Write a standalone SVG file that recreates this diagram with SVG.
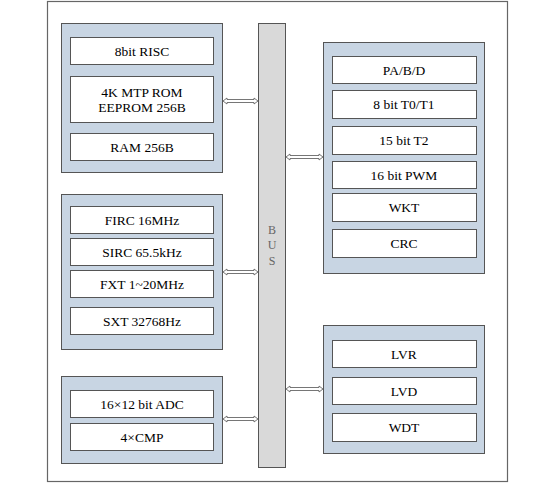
<svg xmlns="http://www.w3.org/2000/svg" width="541" height="493" viewBox="0 0 541 493" font-family="'Liberation Serif', 'DejaVu Serif', serif">
<style>
.frame{fill:#fff;stroke:#666;stroke-width:1.2}
.grp{fill:#c8d5e3;stroke:#555;stroke-width:1}
.box{fill:#fff;stroke:#555;stroke-width:1}
.bus{fill:#d9d9d9;stroke:#555;stroke-width:1}
.arr{fill:#fff;stroke:#666;stroke-width:0.9}
text{font-family:'Liberation Serif','DejaVu Serif',serif;font-size:13.5px;fill:#000;text-anchor:middle;dominant-baseline:central}
.bl{fill:#666;font-size:12px}
</style>
<rect class="frame" x="47.5" y="1.5" width="460" height="480"/>
<g id="bus">
<rect class="bus" x="258.5" y="23.5" width="27" height="444"/>
<text class="bl" x="272" y="230">B</text>
<text class="bl" x="272" y="245">U</text>
<text class="bl" x="272" y="261">S</text>
</g>
<g id="core">
<rect class="grp" x="61.5" y="23.5" width="161" height="149"/>
<rect class="box" x="70.5" y="37.5" width="143" height="27"/>
<text x="142" y="51">8bit RISC</text>
<rect class="box" x="70.5" y="76.5" width="143" height="46"/>
<text x="142" y="92">4K MTP ROM</text>
<text x="142" y="107">EEPROM 256B</text>
<rect class="box" x="70.5" y="133.5" width="143" height="27"/>
<text x="142" y="147">RAM 256B</text>
</g>
<g id="clock">
<rect class="grp" x="61.5" y="194.5" width="161" height="155"/>
<rect class="box" x="70.5" y="206.5" width="143" height="27"/>
<text x="142" y="220">FIRC 16MHz</text>
<rect class="box" x="70.5" y="238.5" width="143" height="27"/>
<text x="142" y="252">SIRC 65.5kHz</text>
<rect class="box" x="70.5" y="270.5" width="143" height="27"/>
<text x="142" y="284">FXT 1~20MHz</text>
<rect class="box" x="70.5" y="307.5" width="143" height="27"/>
<text x="142" y="321">SXT 32768Hz</text>
</g>
<g id="analog">
<rect class="grp" x="61.5" y="376.5" width="161" height="87"/>
<rect class="box" x="70.5" y="390.5" width="143" height="27"/>
<text x="142" y="404">16×12 bit ADC</text>
<rect class="box" x="70.5" y="423.5" width="143" height="27"/>
<text x="142" y="437">4×CMP</text>
</g>
<g id="periph">
<rect class="grp" x="323.5" y="42.5" width="161" height="231"/>
<rect class="box" x="332.5" y="56.5" width="144" height="27"/>
<text x="404" y="70">PA/B/D</text>
<rect class="box" x="332.5" y="90.5" width="144" height="28"/>
<text x="404" y="104">8 bit T0/T1</text>
<rect class="box" x="332.5" y="126.5" width="144" height="28"/>
<text x="404" y="140">15 bit T2</text>
<rect class="box" x="332.5" y="161.5" width="144" height="27"/>
<text x="404" y="175">16 bit PWM</text>
<rect class="box" x="332.5" y="193.5" width="144" height="28"/>
<text x="404" y="207">WKT</text>
<rect class="box" x="332.5" y="229.5" width="144" height="28"/>
<text x="404" y="243">CRC</text>
</g>
<g id="safety">
<rect class="grp" x="323.5" y="325.5" width="161" height="128"/>
<rect class="box" x="332.5" y="340.5" width="144" height="27"/>
<text x="404" y="354">LVR</text>
<rect class="box" x="332.5" y="377.5" width="144" height="27"/>
<text x="404" y="391">LVD</text>
<rect class="box" x="332.5" y="413.5" width="144" height="28"/>
<text x="404" y="427">WDT</text>
</g>
<g id="connectors">
<polygon class="arr" points="223,101 227,98 227,99.5 254,99.5 254,98 258,101 254,104 254,102.5 227,102.5 227,104"/>
<polygon class="arr" points="223,272 227,269 227,270.5 254,270.5 254,269 258,272 254,275 254,273.5 227,273.5 227,275"/>
<polygon class="arr" points="223,419 227,416 227,417.5 254,417.5 254,416 258,419 254,422 254,420.5 227,420.5 227,422"/>
<polygon class="arr" points="286,157 290,154 290,155.5 319,155.5 319,154 323,157 319,160 319,158.5 290,158.5 290,160"/>
<polygon class="arr" points="286,389 290,386 290,387.5 319,387.5 319,386 323,389 319,392 319,390.5 290,390.5 290,392"/>
</g>
</svg>
